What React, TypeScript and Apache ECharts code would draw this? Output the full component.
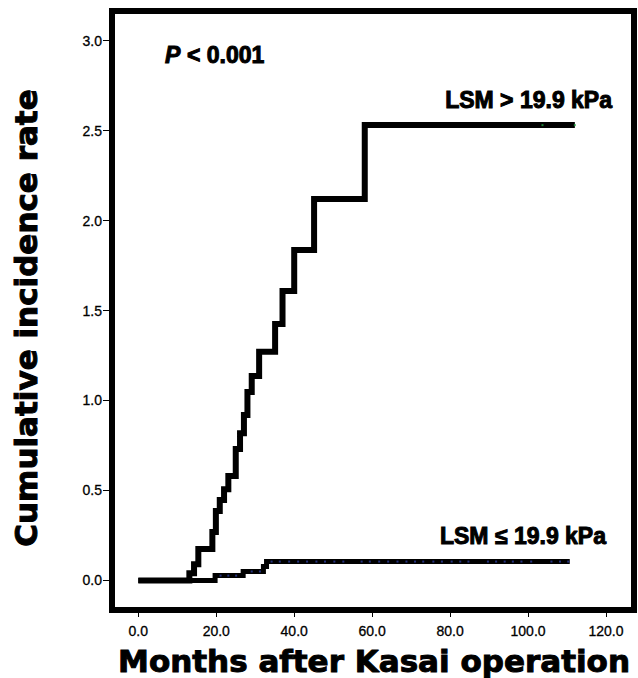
import React, { useEffect, useRef } from "react";
import * as echarts from "echarts";

// Step data (month, cumulative incidence)
const highT = [0, 13.1, 14.3, 15.4, 19.0, 19.9, 20.9, 22.0, 23.1, 25.0, 26.1, 27.1, 28.0, 29.1, 31.0, 35.1, 37.0, 40.0, 45.1, 58.1, 112.0];
const highY = [0, 0.04, 0.09, 0.175, 0.27, 0.386, 0.447, 0.507, 0.58, 0.73, 0.818, 0.92, 1.047, 1.136, 1.271, 1.425, 1.608, 1.836, 2.12, 2.53, 2.53];
const lowT = [0, 19.7, 26.9, 32.1, 32.9, 110.7];
const lowY = [0, 0.027, 0.05, 0.077, 0.105, 0.105];

// Censoring marks
const lowCensorT = [21.1, 23.1, 25.1, 29.1, 31.2, 34.2, 36.3, 38.7, 41.0, 43.3, 45.7, 47.9, 50.3, 52.6, 57.3, 59.4, 61.8, 64.1, 66.5, 68.8, 71.0, 73.1, 75.7, 77.9, 80.4, 82.6, 84.7, 89.7, 91.8, 94.0, 96.1, 98.3, 100.8, 106.0, 108.2, 110.3];
const lowCensorY = [0.027, 0.027, 0.027, 0.05, 0.05, 0.105, 0.105, 0.105, 0.105, 0.105, 0.105, 0.105, 0.105, 0.105, 0.105, 0.105, 0.105, 0.105, 0.105, 0.105, 0.105, 0.105, 0.105, 0.105, 0.105, 0.105, 0.105, 0.105, 0.105, 0.105, 0.105, 0.105, 0.105, 0.105, 0.105, 0.105];
const highCensorT = [103.7, 112.0];
const highCensorY = [2.53, 2.53];

const xTicks = [0, 20, 40, 60, 80, 100, 120];
const yTicks = [0, 0.5, 1.0, 1.5, 2.0, 2.5, 3.0];

const pLetter = "P";
const pRest = "< 0.001";
const labelHigh = "LSM > 19.9 kPa";
const labelLow = "LSM \u2264 19.9 kPa";
const xTitle = "Months after Kasai operation";
const yTitle = "Cumulative incidence rate";

export default function App() {
  const ref = useRef<HTMLDivElement>(null);
  useEffect(() => {
    if (!ref.current) return;
    const chart = echarts.init(ref.current, null, { renderer: "svg" });
    const zip = (a: number[], b: number[]) => a.map((v, i) => [v, b[i]]);
    const bold = "bold 23px 'Liberation Sans', Arial, sans-serif";
    const tickFont = {
      fontSize: 14,
      color: "#000",
      fontFamily: "'Liberation Sans', Arial, sans-serif",
      textBorderColor: "#000",
      textBorderWidth: 0.3,
    };
    chart.setOption({
      animation: false,
      backgroundColor: "#fff",
      grid: {
        left: 112,
        top: 11,
        right: 4,
        bottom: 68,
        show: true,
        borderColor: "#000",
        borderWidth: 6,
        backgroundColor: "transparent",
      },
      xAxis: {
        type: "value",
        min: -6.75,
        max: 127.18,
        axisLine: { show: false, onZero: false },
        splitLine: { show: false },
        axisTick: { show: true, customValues: xTicks, length: 7, lineStyle: { color: "#000", width: 1 } },
        axisLabel: {
          customValues: xTicks,
          formatter: (v: number) => v.toFixed(1),
          margin: 14,
          ...tickFont,
        },
      },
      yAxis: {
        type: "value",
        min: -0.164,
        max: 3.164,
        axisLine: { show: false, onZero: false },
        splitLine: { show: false },
        axisTick: { show: true, customValues: yTicks, length: 9, lineStyle: { color: "#000", width: 1 } },
        axisLabel: {
          customValues: yTicks,
          formatter: (v: number) => v.toFixed(1),
          margin: 10,
          ...tickFont,
        },
      },
      series: [
        {
          type: "line",
          step: "end",
          data: zip(highT, highY),
          symbol: "none",
          lineStyle: { color: "#000", width: 6, join: "miter", cap: "butt" },
          z: 3,
        },
        {
          type: "line",
          step: "end",
          data: zip(lowT, lowY),
          symbol: "none",
          lineStyle: { color: "#000", width: 5, join: "miter", cap: "butt" },
          z: 3,
        },
        {
          type: "scatter",
          data: zip(lowCensorT, lowCensorY),
          symbol: "rect",
          symbolSize: 2,
          itemStyle: { color: "#3040a0" },
          z: 5,
        },
        {
          type: "scatter",
          data: zip(highCensorT, highCensorY),
          symbol: "rect",
          symbolSize: 2,
          itemStyle: { color: "#20a040" },
          z: 5,
        },
      ],
      graphic: [
        {
          type: "text",
          x: 165,
          y: 55,
          style: {
            text: pLetter,
            font: "italic bold 23px 'Liberation Sans', Arial, sans-serif",
            fill: "#000",
            stroke: "#000",
            lineWidth: 1,
            align: "left",
            verticalAlign: "middle",
          },
          z: 10,
        },
        {
          type: "text",
          x: 187,
          y: 55,
          style: {
            text: pRest,
            font: bold,
            fill: "#000",
            stroke: "#000",
            lineWidth: 1,
            align: "left",
            verticalAlign: "middle",
          },
          z: 10,
        },
        {
          type: "text",
          x: 612,
          y: 100,
          style: { text: labelHigh, font: bold, fill: "#000", stroke: "#000", lineWidth: 1, align: "right", verticalAlign: "middle" },
          z: 10,
        },
        {
          type: "text",
          x: 606,
          y: 536,
          style: { text: labelLow, font: bold, fill: "#000", stroke: "#000", lineWidth: 1, align: "right", verticalAlign: "middle" },
          z: 10,
        },
        {
          type: "text",
          x: 374,
          y: 661,
          style: {
            text: xTitle,
            font: "bold 31px 'DejaVu Sans', sans-serif",
            fill: "#000",
            stroke: "#000",
            lineWidth: 1,
            align: "center",
            verticalAlign: "middle",
          },
          z: 10,
        },
        {
          type: "text",
          x: 26,
          y: 318,
          rotation: Math.PI / 2,
          style: {
            text: yTitle,
            font: "bold 31px 'DejaVu Sans', sans-serif",
            fill: "#000",
            stroke: "#000",
            lineWidth: 1,
            align: "center",
            verticalAlign: "middle",
          },
          z: 10,
        },
      ],
    });
    return () => chart.dispose();
  }, []);
  return (
    <div
      ref={ref}
      style={{ position: "fixed", left: 0, top: 0, width: 638, height: 678, background: "#fff" }}
    />
  );
}
